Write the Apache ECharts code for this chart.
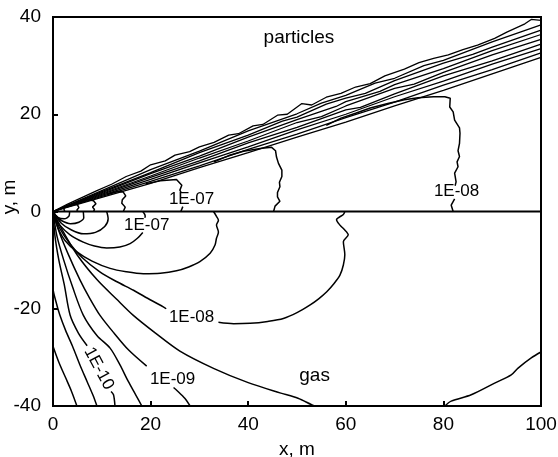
<!DOCTYPE html>
<html>
<head>
<meta charset="utf-8">
<script src="https://cdn.jsdelivr.net/npm/echarts@6/dist/echarts.min.js"></script>
<style>
html, body { margin: 0; padding: 0; background: #fff; }
#chart { width: 558px; height: 457px; }
</style>
</head>
<body>
<div id="chart"></div>
<script>
// axes
var xRange = [0, 100, 20];
var yRange = [-40, 40, 20];
var xName = 'x, m';
var yName = 'y, m';

// particles: fan of contour lines from the source
var fanLines = [
    [[0,0],[3,1.5],[6,2.9],[9,4.3],[12,5.6],[15,7.2],[18,8.3],[20,9.6],[23,10.4],[25,11.6],[28,12.3],[30,13.3],[33,14.2],[36,15.7],[38,16.0],[41,17.6],[43,17.9],[46,19.8],[48,20.0],[51,22.2],[53,21.9],[56,23.5],[59,24.3],[62,25.6],[65,26.3],[68,27.9],[72,29.3],[75,30.6],[78,31.5],[81,32.2],[84,33.3],[87,34.2],[90.5,35.6],[93,36.9],[96.7,38.6],[98,39.5],[100,39.3]],
    [[0,0],[10,4.3],[20,8.6],[30,12.4],[40,16.6],[50,20.1],[55,22.3],[60,23.9],[66,26.4],[70,27.4],[76,30.0],[80,31.1],[90,34.9],[100,38.4]],
    [[0,0],[10,4.1],[20,8.0],[30,12.1],[40,15.7],[47,18.6],[50,19.4],[56,22.1],[60,23.3],[64,24.3],[70,26.9],[80,30.5],[86,32.3],[90,33.8],[100,37.3]],
    [[0,0],[10,3.9],[20,7.8],[30,11.4],[40,15.3],[50,18.9],[58,21.6],[60,22.6],[67,24.7],[70,26.1],[80,29.4],[90,33.1],[100,36.4]],
    [[0,0],[10,3.7],[20,7.3],[30,11.0],[40,14.5],[50,18.3],[55,19.5],[60,21.7],[70,25.3],[74,26.2],[80,28.6],[90,32.2],[100,35.4]],
    [[0,0],[10,3.5],[20,7.0],[30,10.4],[40,14.1],[50,17.3],[60,20.9],[63,21.4],[70,24.2],[80,27.9],[90,31.0],[100,34.4]],
    [[0,0],[10,3.3],[20,6.6],[30,10.0],[40,13.3],[50,16.8],[60,20.0],[70,23.6],[80,26.8],[90,30.3],[100,33.5]],
    [[0,0],[10,3.1],[20,6.2],[30,9.4],[40,12.8],[50,15.9],[60,19.3],[70,22.5],[80,26.0],[90,29.2],[100,32.6]],
    [[0,0],[10,2.9],[20,5.8],[30,9.0],[40,12.1],[50,15.3],[60,18.4],[70,21.7],[80,24.9],[90,28.3],[100,31.7]]
];

// particles: closed-off contours below the fan
var upperContours = [
    [[1.6,0.7],[2.2,0.6],[2.5,0.2],[2.4,0]],
    [[4.3,1.5],[5.0,1.4],[5.3,0.8],[4.9,0.3],[5.1,0]],
    [[7.3,2.4],[8.3,2.2],[8.8,1.6],[8.1,0.9],[8.5,0.4],[8.3,0]],
    [[11.3,3.6],[13.2,4.1],[14.4,4.0],[14.9,3.2],[14.2,2.4],[14.1,1.7],[14.8,0.9],[14.4,0]],
    [[19,5.7],[22,6.3],[25.3,6.6],[26.4,5.4],[26,4.4],[26.3,3.8]],
    [[26.6,1.0],[26.2,0]],
    [[33,10.2],[36,11.5],[39,12.4],[42.8,13.0],[44.8,13.2],[45.6,12.5],[45.8,11.2],[46.2,9.9],[46.9,8.5],[46.9,7.2],[46.4,6.0],[46.5,5.1],[46,3.9],[46,3.0],[46.5,2.1],[45.5,1.1],[45.2,0]],
    [[56,17.7],[59,19.2],[62,20.2],[65,21.3],[68.6,22.2],[72,23],[74.8,23.4],[78,23.6],[80.3,23.6],[81.4,23.3],[81.3,21.5],[82,20.5],[82.3,18.8],[83.3,17.2],[83.4,16.1],[83.3,14],[83.0,12.5],[83.3,11.3],[82.8,10.2],[83.0,9.2],[82.3,7.9],[82.6,6.1],[82.4,5.3]],
    [[82.3,2.6],[81.6,1.3],[82,0]]
];

// gas: contours below the axis
var lowerContours = [
    [[3.4,0],[3.3,-0.9],[2.3,-1.5],[1.0,-1.2],[0,0]],
    [[6.2,0],[6.3,-1.3],[5.3,-2.2],[3.6,-2.5],[1.8,-1.9],[0.6,-0.9],[0,0]],
    [[11,0],[11.3,-1.5],[10.6,-3.1],[8.7,-4.3],[6.2,-4.6],[3.8,-3.8],[1.7,-2.4],[0,0]],
    [[18.4,0],[18.9,-0.9],[18.8,-1.3]],
    [[18.4,-4.3],[17.3,-5.5],[15.8,-6.6],[13.7,-7.3],[11,-7.5],[8.5,-7.1],[6.2,-6.3],[3.5,-4.8],[1.4,-2.8],[0.4,-1.1],[0,0]],
    [[32.9,0],[33.5,-1],[33.9,-1.8],[33.5,-2.8],[33.9,-4.2],[33.5,-5.5],[33.2,-6.9],[32.2,-8.6],[30.1,-10.3],[27.8,-11.4],[25.3,-12.2],[22,-12.7],[18.5,-12.8],[15,-12.4],[11.7,-11.7],[8,-10.2],[4.9,-8.3],[2.5,-6],[1.2,-3.8],[0.4,-1.6],[0,0]],
    [[0,0],[1.4,-3.5],[3.5,-6.7],[6,-9.5],[9.6,-12.4],[13,-14.4],[16.5,-16.2],[20,-18.2],[22.6,-19.6],[23.2,-20.0]],
    [[33.9,-22.8],[37,-23.1],[40.4,-23],[44,-22.6],[47.2,-22],[50,-20.8],[52.7,-19.2],[54.5,-17.9],[56.1,-16.5],[57.6,-14.8],[58.8,-13.1],[59.5,-11],[59.8,-8.9],[59.5,-6.2],[60.5,-4.8],[59.6,-3.6],[58.8,-2.8],[58.1,-1.7],[59.5,-0.6],[59.8,0]],
    [[0,0],[2,-4],[5,-9],[9,-14],[13,-18],[16.4,-21.3],[21,-25],[26,-28.7],[33,-32.3],[40,-35.2],[46.5,-37.3],[50.2,-38.4],[52.9,-39.7],[53.6,-40]],
    [[80.3,-40],[81.6,-39],[85.7,-37.7],[90.5,-35.3],[93.9,-33.6],[95.3,-32.2],[98,-30.1],[100,-28.9]]
];

// gas: steep lines fanning down from the source
var radialLines = [
    [[0,0],[0,-15.7],[0.6,-18.5],[1.4,-21.3],[2.6,-24.5],[4,-27.7],[5.5,-31.5],[7,-35],[8.2,-37.8],[9,-40]],
    [[0,-27.7],[1.2,-31],[2.5,-34],[3.8,-37],[4.9,-40]],
    [[0,0],[0.4,-5],[1.2,-10],[2.3,-15],[3.5,-21.3],[5.2,-25],[7.0,-27.6]],
    [[11.9,-37],[12.4,-37.7],[12.7,-40]],
    [[0,0],[0.8,-5],[2.2,-10],[4,-15.5],[6.2,-21.3],[9,-25.5],[11.7,-28.1],[13.7,-31.5],[15.4,-34.9],[17,-37.8],[18.2,-40]],
    [[0,0],[1.2,-4],[3,-8.5],[5.5,-14],[7.5,-17.8],[9.6,-21.3],[12.5,-25],[15.5,-28.5],[19.2,-31.8]],
    [[24.7,-36.2],[25.5,-36.9],[27,-38.4],[28.1,-40]]
];

var zeroLine = [[0,0],[100,0]];

// contour labels: text, x, y
var contourLabels = [
    ['1E-07', 28.4, 2.6],
    ['1E-07', 19.2, -2.8],
    ['1E-08', 82.7, 4.1],
    ['1E-08', 28.4, -21.7],
    ['1E-09', 24.5, -34.6],
    ['1E-10', 9.4, -32.3]
];
var regionLabels = [
    ['particles', 50.4, 35.7],
    ['gas', 53.6, -33.8]
];

var FONT = 'Liberation Sans, Arial, sans-serif';

var series = [];
function addLines(list, width, smooth) {
    list.forEach(function (pts) {
        series.push({
            type: 'line',
            data: pts,
            showSymbol: false,
            smooth: smooth,
            silent: true,
            lineStyle: { color: '#000', width: width }
        });
    });
}
addLines(fanLines, 1.3, false);
addLines(upperContours, 1.5, false);
addLines(lowerContours, 1.5, 0.3);
addLines(radialLines, 1.5, 0.3);
series.push({
    type: 'line', data: zeroLine, showSymbol: false, silent: true,
    lineStyle: { color: '#000', width: 2.2 }
});

var chart = echarts.init(document.getElementById('chart'), null, { renderer: 'canvas' });
chart.setOption({
    animation: false,
    backgroundColor: '#fff',
    grid: {
        left: 53, right: 17, top: 17, bottom: 51,
        outerBoundsMode: 'none',
        containLabel: false,
        show: true, borderColor: '#000', borderWidth: 2, backgroundColor: 'transparent'
    },
    xAxis: {
        type: 'value',
        min: xRange[0], max: xRange[1], interval: xRange[2],
        name: xName, nameLocation: 'middle', nameGap: 34,
        nameTextStyle: { color: '#000', fontFamily: FONT, fontSize: 19 },
        axisLine: { onZero: false, lineStyle: { color: '#000', width: 2 } },
        axisTick: { inside: true, length: 5, lineStyle: { color: '#000', width: 2 } },
        axisLabel: { color: '#000', fontFamily: FONT, fontSize: 19, margin: 9 },
        splitLine: { show: false }
    },
    yAxis: {
        type: 'value',
        min: yRange[0], max: yRange[1], interval: yRange[2],
        axisLine: { onZero: false, lineStyle: { color: '#000', width: 2 } },
        axisTick: { inside: true, length: 5, lineStyle: { color: '#000', width: 2 } },
        axisLabel: { color: '#000', fontFamily: FONT, fontSize: 19, margin: 12 },
        splitLine: { show: false }
    },
    series: series
});

// text labels placed through the chart's own coordinate conversion
function textAt(d, size) {
    var p = chart.convertToPixel({ gridIndex: 0 }, [d[1], d[2]]);
    return {
        type: 'text',
        x: p[0], y: p[1],
        rotation: d[0] === '1E-10' ? -62 * Math.PI / 180 : 0,
        style: {
            text: d[0], fill: '#000', font: size + 'px ' + FONT,
            textAlign: 'center', textVerticalAlign: 'middle'
        }
    };
}
var texts = contourLabels.map(function (d) { return textAt(d, 17); })
    .concat(regionLabels.map(function (d) { return textAt(d, 19); }));
texts.push({
    type: 'text',
    x: 10, y: 197,
    rotation: Math.PI / 2,
    style: {
        text: yName, fill: '#000', font: '19px ' + FONT,
        textAlign: 'center', textVerticalAlign: 'middle'
    }
});
chart.setOption({ graphic: texts });
</script>
</body>
</html>
